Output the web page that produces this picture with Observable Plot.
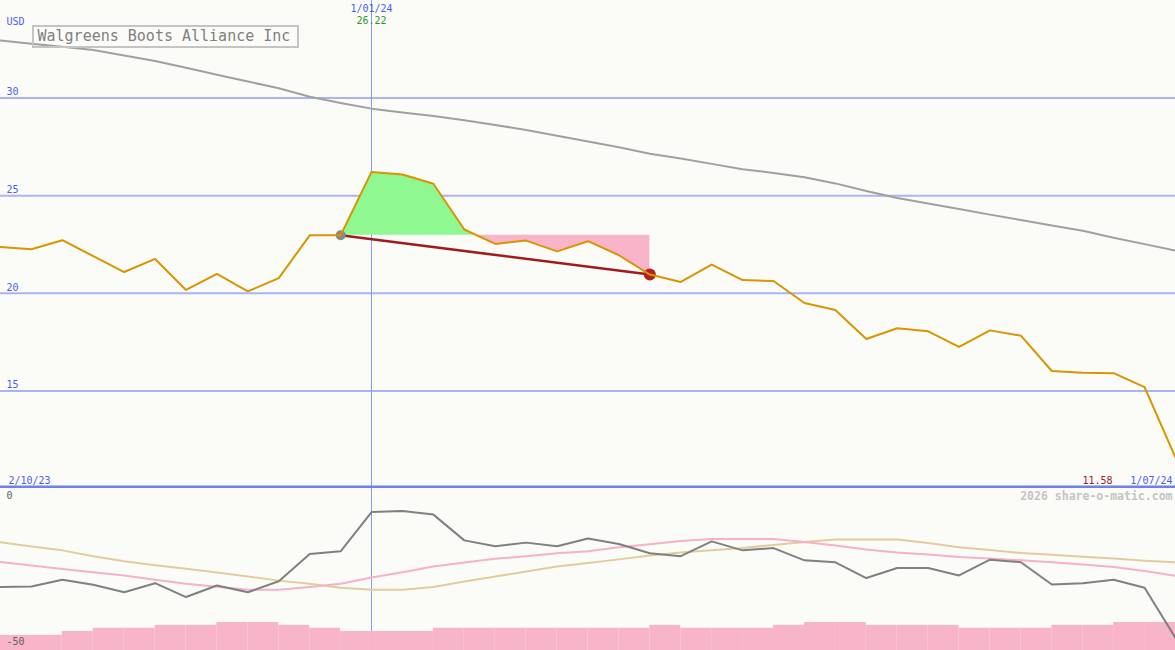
<!DOCTYPE html>
<html>
<head>
<meta charset="utf-8">
<script src="https://cdn.jsdelivr.net/npm/d3@7"></script>
<script src="https://cdn.jsdelivr.net/npm/@observablehq/plot@0.6"></script>
<style>
  html, body { margin: 0; padding: 0; background: #fbfcf8; }
  #chart { width: 1175px; line-height: 0; }
  #chart svg { display: block; background: #fbfcf8; }
</style>
</head>
<body>
<div id="chart"></div>
<script>
// ---------- data ----------
const title = "Walgreens Boots Alliance Inc";
const currency = "USD";
const startLabel = "2/10/23";
const endLabel = "1/07/24";
const markerLabel = "1/01/24";
const markerIndex = 12;
const entryIndex = 11;
const exitIndex = 21;
const watermark = "2026 share-o-matic.com";

// weekly closing prices
const price = [22.37, 22.26, 22.72, 21.90, 21.09, 21.76, 20.17, 20.99, 20.10, 20.78,
  22.97, 22.97, 26.22, 26.09, 25.61, 23.27, 22.53, 22.70, 22.15, 22.67,
  21.95, 20.96, 20.58, 21.47, 20.68, 20.63, 19.50, 19.14, 17.66, 18.21,
  18.05, 17.25, 18.10, 17.83, 16.02, 15.93, 15.91, 15.19, 11.58];

// long moving average (grey)
const movingAvg = [32.95, 32.79, 32.63, 32.46, 32.18, 31.90, 31.55, 31.20, 30.85, 30.50,
  30.07, 29.75, 29.46, 29.26, 29.08, 28.87, 28.62, 28.37, 28.07, 27.78,
  27.48, 27.15, 26.90, 26.63, 26.36, 26.16, 25.95, 25.63, 25.24, 24.88,
  24.60, 24.32, 24.03, 23.75, 23.47, 23.20, 22.85, 22.52, 22.19];

const priceTicks = [15, 20, 25, 30];
const priceDomain = [10, 35];

// lower panel
const lowerDomain = [-50, 0];
const lowerTicks = [0, -50];
const oscGrey = [-30.3, -30.1, -28.0, -29.6, -31.9, -29.1, -33.4, -29.8, -31.9, -28.5,
  -20.0, -19.2, -7.0, -6.7, -7.8, -15.8, -17.6, -16.5, -17.6, -15.2,
  -16.9, -19.8, -20.7, -16.1, -18.9, -18.2, -22.0, -22.6, -27.5, -24.4,
  -24.4, -26.7, -21.8, -22.6, -29.5, -29.1, -28.0, -30.5, -46.1];
const oscPink = [-22.5, -23.6, -24.7, -25.7, -26.7, -28.0, -29.3, -30.2, -31.1, -31.1,
  -30.3, -29.3, -27.3, -25.7, -23.9, -22.7, -21.5, -20.7, -19.8, -19.2,
  -17.9, -17.0, -16.0, -15.4, -15.4, -15.4, -16.3, -17.4, -18.6, -19.6,
  -20.2, -21.0, -21.4, -22.0, -22.6, -23.3, -24.1, -25.3, -26.8];
const oscTan = [-16.4, -17.7, -18.9, -20.7, -22.3, -23.5, -24.6, -25.8, -27.0, -28.3,
  -29.3, -30.5, -31.1, -31.1, -30.3, -28.6, -27.0, -25.5, -23.9, -22.8,
  -21.7, -20.5, -19.6, -18.9, -18.2, -17.2, -16.3, -15.5, -15.5, -15.5,
  -16.6, -17.9, -18.8, -19.7, -20.3, -20.9, -21.4, -22.1, -22.6];
// step bars (one per weekly interval)
const barLevel = [-45.3, -45.3, -44.1, -43.1, -43.1, -42.2, -42.2, -41.3, -41.3, -42.2,
  -43.1, -44.1, -44.1, -44.1, -43.1, -43.1, -43.1, -43.1, -43.1, -43.1,
  -43.1, -42.2, -43.1, -43.1, -43.1, -42.2, -41.3, -41.3, -42.2, -42.2,
  -42.2, -43.1, -43.1, -43.1, -42.2, -42.2, -41.3, -41.3];

// ---------- derived tables ----------
const idx = price.map((_, i) => i);
const priceData = idx.map(i => ({x: i, y: price[i]}));
const maData = idx.map(i => ({x: i, y: movingAvg[i]}));
const base = price[entryIndex];
const seg = [];
for (let i = entryIndex; i <= exitIndex; i++) {
  seg.push({x: i, y: price[i]});
  if (i < exitIndex) {
    const a = price[i] - base, b = price[i + 1] - base;
    if (a * b < 0) seg.push({x: i + a / (a - b), y: base});
  }
}
const trade = [{x: entryIndex, y: price[entryIndex]}, {x: exitIndex, y: price[exitIndex]}];
const bars = barLevel.map((v, i) => ({x1: i, x2: i + 1, y: v}));

const W = 1175;
const mono = "DejaVu Sans Mono, monospace";
const blue = "#4c5cf0";
const gridBlue = "#a8b4f4";
const markerBlue = "#8898f8";
const xDomain = [0, price.length - 1];

const topChart = Plot.plot({
  width: W, height: 488,
  margin: 0,
  style: {background: "#fbfcf8", fontFamily: mono},
  x: {domain: xDomain, axis: null},
  y: {domain: priceDomain, axis: null},
  marks: [
    Plot.ruleY(priceTicks, {stroke: gridBlue, strokeWidth: 2}),
    Plot.ruleX([markerIndex], {stroke: markerBlue, strokeWidth: 1, dx: -0.05, shapeRendering: "crispEdges"}),
    Plot.line(maData, {x: "x", y: "y", stroke: "#a0a0a0", strokeWidth: 2}),
    Plot.areaY(seg, {x: "x", y1: base, y2: d => Math.max(d.y, base), fill: "#90f890", curve: "linear"}),
    Plot.areaY(seg, {x: "x", y1: base, y2: d => Math.min(d.y, base), fill: "#f8b4c8", curve: "linear"}),
    Plot.line(trade, {x: "x", y: "y", stroke: "#a01c1c", strokeWidth: 2.5}),
    Plot.dot([trade[0]], {x: "x", y: "y", r: 5, fill: "#888888"}),
    Plot.dot([trade[1]], {x: "x", y: "y", r: 6, fill: "#b02222"}),
    Plot.line(priceData, {x: "x", y: "y", stroke: "#d99400", strokeWidth: 2}),
    Plot.ruleY([priceDomain[0]], {stroke: "#7080ec", strokeWidth: 3, dy: -1.5}),
    Plot.text(priceTicks, {x: xDomain[0], y: d => d, text: d => String(d), textAnchor: "start", dx: 6, dy: -6, fill: blue, fontSize: 10}),
    Plot.text([currency], {frameAnchor: "top-left", text: d => d, textAnchor: "start", dx: 6, dy: 17, fill: blue, fontSize: 10}),
    Plot.text([markerLabel], {x: () => markerIndex, frameAnchor: "top", text: d => d, dy: 4, fill: blue, fontSize: 10}),
    Plot.text([price[markerIndex].toFixed(2)], {x: () => markerIndex, frameAnchor: "top", text: d => d, dy: 16, fill: "#22a022", fontSize: 10}),
    Plot.text([startLabel], {frameAnchor: "bottom-left", text: d => d, textAnchor: "start", dx: 8, dy: -5, fill: blue, fontSize: 10}),
    Plot.text([endLabel], {frameAnchor: "bottom-right", text: d => d, textAnchor: "end", dx: -3, dy: -5, fill: blue, fontSize: 10}),
    Plot.text([price[price.length - 1].toFixed(2)], {frameAnchor: "bottom-right", text: d => d, textAnchor: "end", dx: -63, dy: -5, fill: "#a02020", fontSize: 10}),
    Plot.text([title], {frameAnchor: "top-left", text: d => d, textAnchor: "start", dx: 37, dy: 30, fill: "#808080", fontSize: 15})
  ]
});
// title box
d3.select(topChart).append("rect")
  .attr("x", 33).attr("y", 26).attr("width", 265).attr("height", 21)
  .attr("fill", "none").attr("stroke", "#c4c4c4").attr("stroke-width", 2);

const bottomChart = Plot.plot({
  width: W, height: 162,
  margin: 0,
  style: {background: "#fbfcf8", fontFamily: mono},
  x: {domain: xDomain, axis: null},
  y: {domain: lowerDomain, range: [162, 1], axis: null},
  marks: [
    Plot.ruleX([markerIndex], {stroke: markerBlue, strokeWidth: 1, dx: -0.05, shapeRendering: "crispEdges"}),
    Plot.rectY(bars, {x1: "x1", x2: "x2", y1: lowerDomain[0], y2: "y", fill: "#f8b4c8"}),
    Plot.line(idx, {x: i => i, y: i => oscTan[i], stroke: "#e2cc9e", strokeWidth: 2}),
    Plot.line(idx, {x: i => i, y: i => oscPink[i], stroke: "#f8b0c8", strokeWidth: 2}),
    Plot.line(idx, {x: i => i, y: i => oscGrey[i], stroke: "#808080", strokeWidth: 2}),
    Plot.text([lowerTicks[0]], {frameAnchor: "top-left", text: d => String(d), textAnchor: "start", dx: 6, dy: 3, fill: "#606060", fontSize: 10}),
    Plot.text([lowerTicks[1]], {frameAnchor: "bottom-left", text: d => String(d), textAnchor: "start", dx: 6, dy: -6, fill: "#606060", fontSize: 10}),
    Plot.text([watermark], {frameAnchor: "top-right", text: d => d, textAnchor: "end", dx: -3, dy: 3, fill: "#c4c4c4", fontSize: 11.5, fontWeight: "bold"})
  ]
});

document.getElementById("chart").append(topChart, bottomChart);
</script>
</body>
</html>
